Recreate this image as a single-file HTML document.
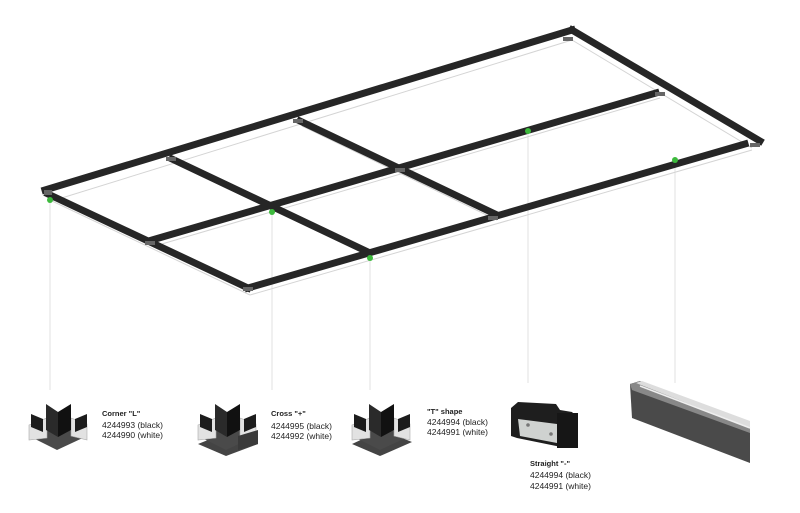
<!DOCTYPE html>
<html><head><meta charset="utf-8"><style>
html,body{margin:0;padding:0;background:#fff;}
svg{display:block;}
text{font-family:"Liberation Sans","DejaVu Sans",sans-serif;fill:#222;}
</style></head><body>
<svg width="800" height="513" viewBox="0 0 800 513" xmlns="http://www.w3.org/2000/svg">
<defs>
<g id="fitting">
<!-- relative to origin: left of icon -->
<polygon points="0,36 30,24 58,36 28,50" fill="#4a4a4a"/>
<polygon points="0,25 18,18 18,38 0,40" fill="#e2e2e2" stroke="#aaa" stroke-width="0.6"/>
<polygon points="42,18 58,24 58,40 42,36" fill="#e2e2e2" stroke="#aaa" stroke-width="0.6"/>
<polygon points="2,14 14,19 14,32 2,27" fill="#1c1c1c"/>
<polygon points="46,19 58,14 58,27 46,32" fill="#1c1c1c"/>
<polygon points="17,4 29,12 29,37 17,30" fill="#2a2a2a"/>
<polygon points="29,12 42,4 42,30 29,37" fill="#111"/>
</g>
</defs>
<!-- hanger wires -->
<g stroke="#e2e2e2" stroke-width="1">
<line x1="50" y1="200" x2="50" y2="390"/>
<line x1="272" y1="212" x2="272" y2="390"/>
<line x1="370" y1="258" x2="370" y2="390"/>
<line x1="528" y1="131" x2="528" y2="383"/>
<line x1="675" y1="160" x2="675" y2="383"/>
</g>
<g stroke="#d4d4d4" stroke-width="1" fill="none">
<line x1="52" y1="201" x2="572" y2="40"/>
<line x1="572" y1="40" x2="752" y2="148"/>
<line x1="52" y1="201" x2="250" y2="295"/>
<line x1="250" y1="295" x2="752" y2="150"/>
<line x1="155" y1="246" x2="660" y2="98"/>
<line x1="176" y1="164" x2="372" y2="257"/>
<line x1="302" y1="126" x2="497" y2="220"/>
</g>
<g stroke="#262626" stroke-width="7" stroke-linecap="square" fill="none">
<line x1="45" y1="190" x2="572" y2="30"/>
<line x1="572" y1="30" x2="760" y2="141"/>
<line x1="48" y1="194" x2="248" y2="288"/>
<line x1="248" y1="288" x2="745" y2="144"/>
<line x1="152" y1="240" x2="656" y2="93"/>
<line x1="172" y1="159" x2="368" y2="252"/>
<line x1="300" y1="121" x2="495" y2="214"/>
</g>
<g fill="#666">
<rect x="44" y="190" width="8" height="5"/>
<rect x="166" y="157" width="10" height="4"/>
<rect x="293" y="119" width="10" height="4"/>
<rect x="395" y="168" width="10" height="4"/>
<rect x="145" y="241" width="10" height="4"/>
<rect x="243" y="287" width="10" height="4"/>
<rect x="488" y="216" width="10" height="4"/>
<rect x="563" y="37" width="10" height="4"/>
<rect x="655" y="92" width="10" height="4"/>
<rect x="750" y="143" width="10" height="4"/>
</g>
<g fill="#3dba3d">
<circle cx="50" cy="200" r="3"/>
<circle cx="272" cy="212" r="3"/>
<circle cx="370" cy="258" r="3"/>
<circle cx="528" cy="131" r="3"/>
<circle cx="675" cy="160" r="3"/>
</g>

<!-- Corner L -->
<use href="#fitting" x="29" y="400"/>
<text x="102" y="416" font-size="7.5" font-weight="bold">Corner "L"</text>
<text x="102" y="428" font-size="8.5">4244993 (black)</text>
<text x="102" y="438" font-size="8.5">4244990 (white)</text>

<!-- Cross -->
<polygon points="198,444 226,456 258,444 228,432" fill="#444"/>
<use href="#fitting" x="198" y="400"/>
<polygon points="238,436 258,430 258,444 238,450" fill="#3a3a3a"/>
<text x="271" y="416" font-size="7.5" font-weight="bold">Cross "+"</text>
<text x="271" y="429" font-size="8.5">4244995 (black)</text>
<text x="271" y="439" font-size="8.5">4244992 (white)</text>

<!-- T shape -->
<polygon points="352,444 380,456 412,442 382,430" fill="#444"/>
<use href="#fitting" x="352" y="400"/>
<text x="427" y="414" font-size="7.5" font-weight="bold">"T" shape</text>
<text x="427" y="425" font-size="8.5">4244994 (black)</text>
<text x="427" y="435" font-size="8.5">4244991 (white)</text>

<!-- Straight -->
<g>
<polygon points="511,408 518,402 556,404 560,410 572,412 578,418 578,448 566,448 517,438 511,436" fill="#1e1e1e"/>
<polygon points="518,419 557,424 557,443 520,436" fill="#cfd2d0"/>
<circle cx="528" cy="425" r="1.8" fill="#777"/>
<circle cx="551" cy="434" r="1.8" fill="#777"/>
<rect x="557" y="413" width="21" height="35" fill="#161616"/>
</g>
<text x="530" y="466" font-size="7.5" font-weight="bold">Straight "-"</text>
<text x="530" y="478" font-size="8.5">4244994 (black)</text>
<text x="530" y="489" font-size="8.5">4244991 (white)</text>

<!-- profile -->
<g>
<polygon points="630,384 640,381 750,423 750,463 632,418" fill="#4a4a4a"/>
<polygon points="630,384 640,381 750,423 750,433 632,390" fill="#888"/>
<polygon points="636,383 642,381 750,421 750,428" fill="#ddd"/>
<line x1="640" y1="386" x2="750" y2="428" stroke="#eee" stroke-width="1.5"/>
</g>
</svg>
</body></html>
